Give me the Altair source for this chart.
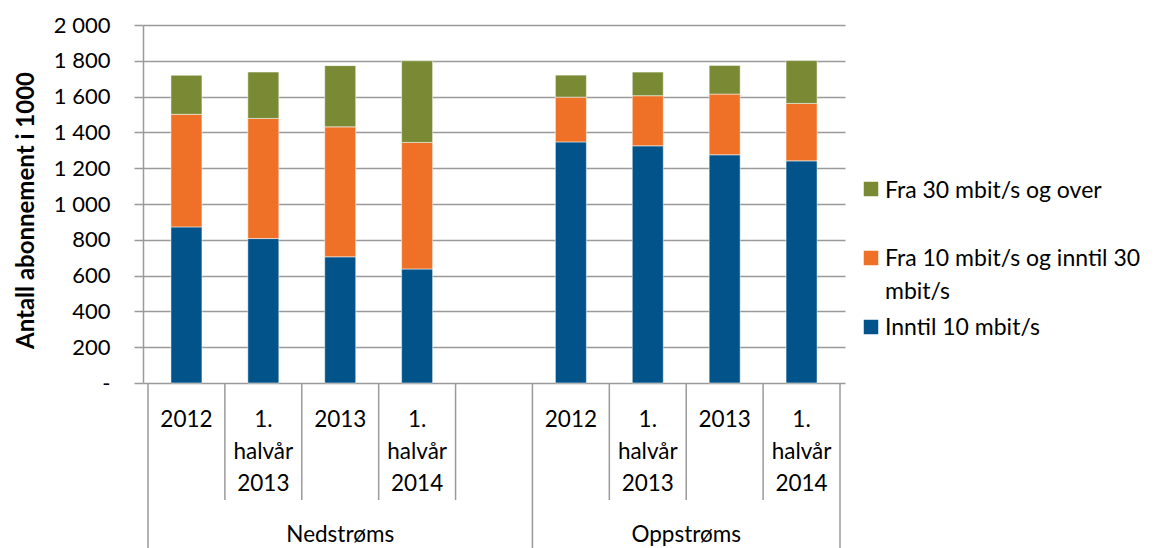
import altair as alt
import pandas as pd

# ---- data ----
slot_pos = [0.5, 1.5, 2.5, 3.5, 5.5, 6.5, 7.5, 8.5]
period_labels = ["2012", "1.\nhalvår\n2013", "2013", "1.\nhalvår\n2014"] * 2
group_names = ["Nedstrøms", "Oppstrøms"]
group_pos = [2.5, 7.0]
boundaries_inner = [1, 2, 3, 4, 6, 7, 8]
boundaries_outer = [0, 5, 9]

series = ["Inntil 10 mbit/s", "Fra 10 mbit/s og inntil 30 mbit/s", "Fra 30 mbit/s og over"]
legend_text = ["Inntil 10 mbit/s", "Fra 10 mbit/s og inntil 30\nmbit/s", "Fra 30 mbit/s og over"]
inntil10 = [872, 807, 705, 637, 1347, 1325, 1275, 1241]
fra10til30 = [629, 671, 726, 707, 250, 280, 339, 321]
fra30 = [218, 259, 342, 456, 123, 132, 160, 239]
colors = ["#02538A", "#EE7127", "#7A8A34"]

FONT = "Lato"
GRID = "#9a9a9a"

rows = []
for vals, s, o in [(inntil10, series[0], 0), (fra10til30, series[1], 1), (fra30, series[2], 2)]:
    for x, v in zip(slot_pos, vals):
        rows.append({"slot": x, "series": s, "value": v, "order": o})
df = pd.DataFrame(rows)

xscale = alt.Scale(domain=[0, 9], nice=False, zero=False)

bars = alt.Chart(df).mark_bar(size=31, stroke="white", strokeWidth=0.5).encode(
    x=alt.X("slot:Q", scale=xscale, axis=None),
    y=alt.Y(
        "value:Q",
        stack="zero",
        scale=alt.Scale(domain=[0, 2000], nice=False),
        axis=alt.Axis(
            values=list(range(0, 2001, 200)),
            labelExpr="datum.value == 0 ? '-' : replace(format(datum.value, ','), ',', ' ')",
            title="Antall abonnement i 1000",
            titleFont=FONT,
            titleFontSize=24,
            titleFontWeight="bold",
            titleColor="black",
            titleX=-117,
            titleY=185,
            titleAngle=270,
            titleAlign="center",
            titleBaseline="middle",
            labelFont=FONT,
            labelFontSize=22,
            labelColor="black",
            labelPadding=24,
            tickSize=9,
            tickColor=GRID,
            tickWidth=1.5,
            domainColor=GRID,
            domainWidth=1.5,
            gridColor=GRID,
            gridWidth=1.5,
        ),
    ),
    color=alt.Color("series:N", scale=alt.Scale(domain=series, range=colors), legend=None),
    order=alt.Order("order:Q"),
)

inner = alt.Chart(pd.DataFrame({"b": boundaries_inner})).mark_rule(color=GRID, strokeWidth=1.5).encode(
    x=alt.X("b:Q", scale=xscale), y=alt.value(358), y2=alt.value(475)
)
outer = alt.Chart(pd.DataFrame({"b": boundaries_outer})).mark_rule(color=GRID, strokeWidth=1.5).encode(
    x=alt.X("b:Q", scale=xscale), y=alt.value(358), y2=alt.value(540)
)

periods = alt.Chart(pd.DataFrame({"slot": slot_pos, "label": period_labels})).mark_text(
    font=FONT, fontSize=22.5, lineBreak="\n", lineHeight=32, baseline="alphabetic", align="center", color="black"
).encode(x=alt.X("slot:Q", scale=xscale), y=alt.value(402), text="label:N")

groups = alt.Chart(pd.DataFrame({"pos": group_pos, "name": group_names})).mark_text(
    font=FONT, fontSize=22.5, baseline="alphabetic", align="center", color="black"
).encode(x=alt.X("pos:Q", scale=xscale), y=alt.value(517), text="name:N")

# legend (top to bottom: green, orange, blue)
legend_layers = []
leg_sq_y = [302, 233, 164]
leg_tx_y = [310, 241, 173]
for i in range(3):
    d = pd.DataFrame({"series": [series[i]], "txt": [legend_text[i]]})
    sq = alt.Chart(d).mark_square(size=210, opacity=1).encode(
        x=alt.value(728), y=alt.value(leg_sq_y[i]),
        color=alt.Color("series:N", scale=alt.Scale(domain=series, range=colors), legend=None),
    )
    tx = alt.Chart(d).mark_text(
        font=FONT, fontSize=23, lineBreak="\n", lineHeight=33, baseline="alphabetic", align="left", color="black"
    ).encode(x=alt.value(742), y=alt.value(leg_tx_y[i]), text="txt:N")
    legend_layers += [sq, tx]

chart = alt.layer(bars, inner, outer, periods, groups, *legend_layers).properties(
    width=702,
    height=358,
    padding={"left": 135, "top": 17, "right": 306, "bottom": 165},
    autosize="none",
).configure_view(stroke=None)

chart.save("out.html", embed_options={"renderer": "svg", "actions": False})
